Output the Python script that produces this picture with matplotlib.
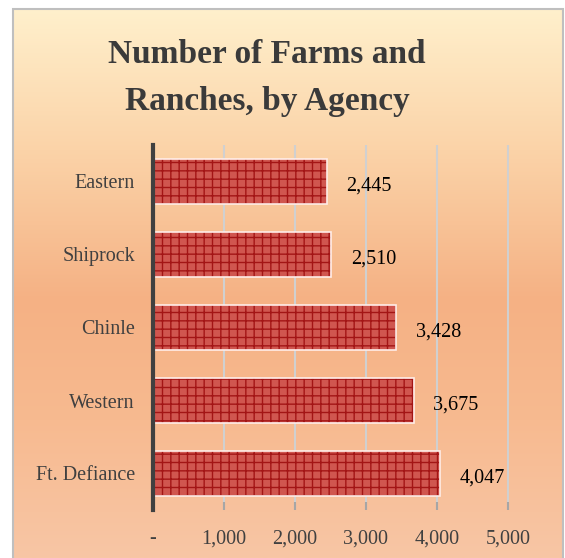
import matplotlib.pyplot as plt
import numpy as np
import matplotlib.patches as mpatches
from matplotlib.colors import to_rgb
from matplotlib.ticker import FuncFormatter

# data
agencies = ['Eastern', 'Shiprock', 'Chinle', 'Western', 'Ft. Defiance']
farms = [2445, 2510, 3428, 3675, 4047]
xticks = [0, 1000, 2000, 3000, 4000, 5000]

plt.rcParams['font.family'] = ['Liberation Serif', 'DejaVu Serif']
plt.rcParams['hatch.linewidth'] = 1.0

W, H = 565, 558
fig = plt.figure(figsize=(W / 100, H / 100), dpi=100)
fig.patch.set_facecolor('white')

# --- peach gradient background box ---
stop_y = [9, 150, 300, 420, 558]
stop_c = ['#FFF0CC', '#FBD3A8', '#F5B184', '#F7BA90', '#F8C6A5']
ys = np.arange(9, 559)
rgb = np.array([to_rgb(c) for c in stop_c])
grad = np.stack([np.interp(ys, stop_y, rgb[:, k]) for k in range(3)], axis=1)
grad = np.repeat(grad[:, None, :], 2, axis=1)

bg = fig.add_axes([13 / W, 0, (563 - 13) / W, (H - 9) / H], zorder=0)
bg.imshow(grad, aspect='auto', interpolation='bilinear')
bg.axis('off')
fig.patches.append(mpatches.Rectangle((13 / W, -0.01), (563 - 13) / W, (H - 9) / H + 0.01,
                                      transform=fig.transFigure, fill=False,
                                      edgecolor='#BFBFBF', linewidth=1.5, zorder=5))

# --- title (two lines) ---
fig.text(267 / W, 1 - 63 / H, 'Number of Farms and', ha='center', va='baseline',
         fontsize=24, fontweight='bold', color='#3A3A3A', zorder=6)
fig.text(267 / W, 1 - 110 / H, 'Ranches, by Agency', ha='center', va='baseline',
         fontsize=24, fontweight='bold', color='#3A3A3A', zorder=6)

# --- bar chart ---
xmax = 5030
ax = fig.add_axes([153 / W, 1 - 510 / H, 355 * xmax / 5000 / W, 365 / H], zorder=2)
ax.patch.set_alpha(0)

y = np.arange(len(agencies))
ax.barh(y, farms, height=0.62, color='#D0564F', edgecolor='#A31515',
        linewidth=0, hatch='++', zorder=3)
ax.barh(y, farms, height=0.62, fill=False, edgecolor='#FFEDE8', linewidth=1.2, zorder=4)

for yi, v in zip(y, farms):
    ax.annotate(f'{v:,}', (v, yi), xytext=(14, -3), textcoords='offset points',
                ha='left', va='center', fontsize=14.5, color='black')

ax.set_xlim(0, xmax)
ax.set_ylim(4.5, -0.5)
ax.set_xticks(xticks)
ax.xaxis.set_major_formatter(FuncFormatter(lambda v, p: '-' if v == 0 else f'{int(v):,}'))
ax.set_yticks(y, agencies)

ax.grid(axis='x', color='#D0D0D0', linewidth=1.5, zorder=1)
ax.set_axisbelow(True)
for s in ['top', 'right', 'bottom']:
    ax.spines[s].set_visible(False)
ax.spines['left'].set_color('#404040')
ax.spines['left'].set_linewidth(3)
ax.spines['left'].set_zorder(5)

ax.tick_params(axis='x', direction='in', length=6, width=1.5, color='#A6A6A6',
               pad=14, labelsize=14.5, labelcolor='#404040')
ax.tick_params(axis='y', length=0, pad=13, labelsize=14.5, labelcolor='#404040')

fig.savefig('out.png', dpi=100)
